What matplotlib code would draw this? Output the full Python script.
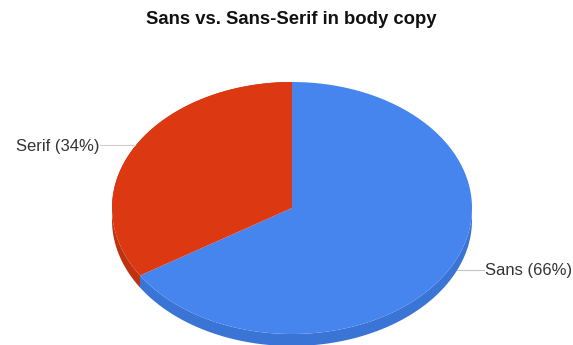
import numpy as np
import matplotlib
matplotlib.use("Agg")
import matplotlib.pyplot as plt
from matplotlib.patches import Polygon

plt.rcParams['font.family'] = ['Liberation Sans', 'DejaVu Sans']

labels = ["Sans", "Serif"]
values = [66, 34]
colors = ["#4684ee", "#dc3912"]
side_colors = ["#3a75d6", "#bd3210"]
title = "Sans vs. Sans-Serif in body copy"

W, H = 573, 345
fig = plt.figure(figsize=(W / 100, H / 100), dpi=100)
ax = fig.add_axes([0, 0, 1, 1])
ax.set_xlim(0, W)
ax.set_ylim(H, 0)
ax.axis("off")

cx, cy = 292, 208
rx, ry = 180, 126
depth = 12

fracs = np.array(values) / sum(values)
angles = 90 - 360 * np.concatenate(([0], np.cumsum(fracs)))


def pts(a0, a1, dy=0):
    t = np.radians(np.linspace(a0, a1, 200))
    return np.column_stack((cx + rx * np.cos(t), cy + dy - ry * np.sin(t)))


# side wall first, then top slices
for i in range(len(values)):
    a1, a0 = angles[i], angles[i + 1]
    lo, hi = max(a0, -180), min(a1, 0)
    if a0 < -180:
        lo, hi = a0, min(a1, 0)
    top = pts(lo, hi)
    ax.add_patch(Polygon(np.vstack((top, pts(lo, hi, depth)[::-1])), fc=side_colors[i], ec="none"))

for i in range(len(values)):
    arc = pts(angles[i], angles[i + 1])
    ax.add_patch(Polygon(np.vstack(([[cx, cy]], arc)), fc=colors[i], ec="none"))

ax.text(291.5, 19.5, title, ha="center", va="center", fontsize=13.3, fontweight="bold", color="#111111")

# leader lines and labels
ax.plot([457, 484], [270, 270], color="#c4c4c4", lw=0.8)
ax.plot([100, 135], [145, 145], color="#d8c8c8", lw=0.8)
ax.text(485, 270.5, f"{labels[0]} ({values[0]}%)", ha="left", va="center", fontsize=12, color="#333333")
ax.text(99, 146, f"{labels[1]} ({values[1]}%)", ha="right", va="center", fontsize=12, color="#333333")

fig.savefig("out.png", dpi=100)
